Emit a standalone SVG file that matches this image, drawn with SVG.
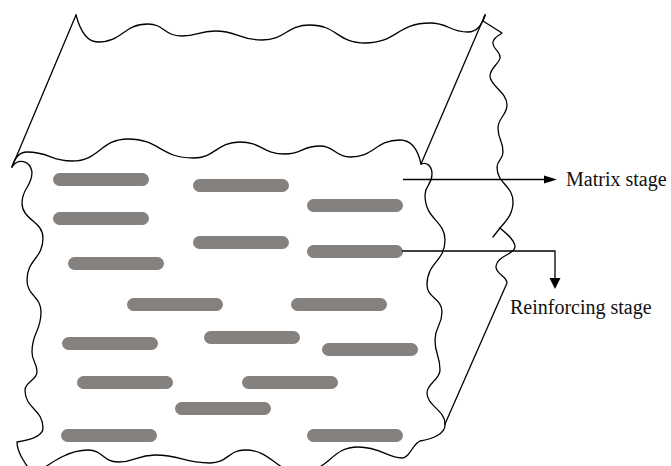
<svg xmlns="http://www.w3.org/2000/svg" width="671" height="466" viewBox="0 0 671 466">
  <style>
    .edge { fill: none; stroke: #000; stroke-width: 1.3; stroke-linejoin: round; stroke-linecap: round; }
    .fiber { fill: #85817f; }
    .lead { fill: none; stroke: #000; stroke-width: 1.3; }
    .head { fill: #000; }
    .label { font-family: "Liberation Serif", "Times New Roman", serif; font-size: 20px; fill: #111; }
  </style>
  <rect width="671" height="466" fill="#fff"/>

  <!-- composite slab outline -->
  <g id="slab">
    <!-- back top edge -->
    <path class="edge" d="M76,15 C80,30 86,42 98,42 C123,42 123,24 148,24 C164,24 164,36 182,36 C198,36 198,31 215,31 C238,31 238,40 262,40 C286,40 286,25 310,25 C337,25 337,43 365,43 C397,43 397,23 430,23 C449,23 449,32 468,32 C476,32 482,25 485,15"/>
    <!-- top face side lines -->
    <path class="edge" d="M76,15 L12,167"/>
    <path class="edge" d="M485,15 L421,164"/>
    <!-- front top edge -->
    <path class="edge" d="M12,167 C14,160 18,152 27,152 C50,152 50,161 72,161 C100,161 100,139 128,139 C160,139 160,158 193,158 C216,158 216,142 240,142 C262,142 262,154 285,154 C302,154 302,146 320,146 C335,146 335,157 350,157 C375,157 375,140 400,140 C412,140 418,150 421,164"/>
    <!-- front left edge -->
    <path class="edge" d="M12,167 C18,158 30,160 32,172 C32,187 22,188 22,203 C22,220 43,221 43,238 C43,259 27,259 27,280 C27,296 41,296 41,312 C41,332 32,332 32,352 C32,362 37,362 37,372 C37,380 25,382 25,390 C25,409 43,409 43,428 C43,436 30,440 17,442 C17,452 24,462 34,476"/>
    <!-- front bottom edge -->
    <path class="edge" d="M38,472 C55,460 70,450 88,450 C103,450 103,462 118,462 C136,462 136,455 155,455 C182,455 182,463 210,463 C228,463 228,450 245,450 C272,450 275,472 300,472 C330,472 330,447 358,447 C380,447 388,458 402,458 C410,458 413,443 420,441 C432,439 446,434 445,424"/>
    <!-- front right edge -->
    <path class="edge" d="M421,164 C426,162 432,165 432,174 C432,185 425,185 425,195 C425,220 445,220 445,240 C445,262 427,262 427,285 C427,298 442,298 442,312 C442,326 435,326 435,340 C435,355 440,355 440,370 C440,380 427,383 427,393 C427,406 445,410 445,424"/>
    <!-- back right edge -->
    <path class="edge" d="M485,15 L483,21 L502,33 C496,37 492,40 493,44 C494,50 501,52 500,58 C499,64 490,68 490,76 C490,86 507,92 507,105 C507,115 498,118 498,128 C498,140 503,140 503,152 C503,160 497,160 497,167 C497,184 513,185 513,202 C513,215 505,222 500,228 L493,237"/>
    <!-- right face lower edge -->
    <path class="edge" d="M500,228 C506,233 515,240 515,247 C515,254 497,256 496,266 C495,274 507,276 507,283 L445,424"/>
  </g>

  <!-- reinforcing fibres -->
  <g id="fibers">
    <rect class="fiber" x="53" y="173" width="96" height="13" rx="6.5"/>
    <rect class="fiber" x="193" y="179" width="96" height="13" rx="6.5"/>
    <rect class="fiber" x="307" y="199" width="96" height="13" rx="6.5"/>
    <rect class="fiber" x="53" y="212" width="96" height="13" rx="6.5"/>
    <rect class="fiber" x="193" y="236" width="96" height="13" rx="6.5"/>
    <rect class="fiber" x="307" y="245" width="96" height="13" rx="6.5"/>
    <rect class="fiber" x="68" y="257" width="96" height="13" rx="6.5"/>
    <rect class="fiber" x="127" y="298" width="96" height="13" rx="6.5"/>
    <rect class="fiber" x="291" y="298" width="96" height="13" rx="6.5"/>
    <rect class="fiber" x="62" y="337" width="96" height="13" rx="6.5"/>
    <rect class="fiber" x="204" y="331" width="96" height="13" rx="6.5"/>
    <rect class="fiber" x="322" y="343" width="96" height="13" rx="6.5"/>
    <rect class="fiber" x="77" y="376" width="96" height="13" rx="6.5"/>
    <rect class="fiber" x="242" y="376" width="96" height="13" rx="6.5"/>
    <rect class="fiber" x="175" y="402" width="96" height="13" rx="6.5"/>
    <rect class="fiber" x="61" y="429" width="96" height="13" rx="6.5"/>
    <rect class="fiber" x="307" y="429" width="96" height="13" rx="6.5"/>
  </g>

  <!-- leader arrows -->
  <g id="connectors">
    <path class="lead" d="M403,179.5 L546,179.5"/>
    <polygon class="head" points="544,175.5 557,179.5 544,183.5"/>
    <path class="lead" d="M402,251 L555,251 L555,279"/>
    <polygon class="head" points="549.5,278 560.5,278 555,289"/>
  </g>

  <g id="matrix-label">
    <text class="label" x="566" y="186">Matrix stage</text>
  </g>
  <g id="reinforcing-label">
    <text class="label" x="510" y="314">Reinforcing stage</text>
  </g>
</svg>
